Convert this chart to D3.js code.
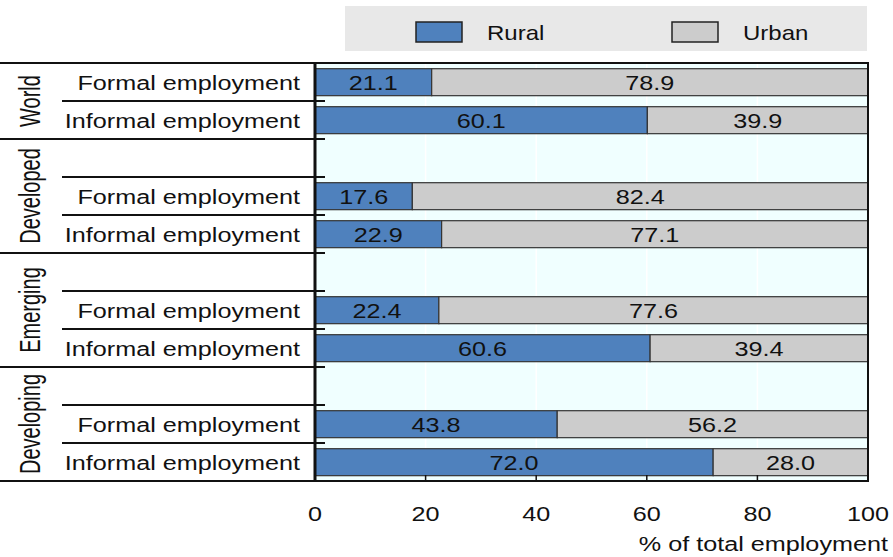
<!DOCTYPE html>
<html><head><meta charset="utf-8">
<script src="https://cdn.jsdelivr.net/npm/d3@7/dist/d3.min.js"></script>
<style>body{margin:0;background:#fff}svg{display:block}text{font-family:"Liberation Sans",Arial,sans-serif;fill:#111}</style>
</head><body><svg id="c" width="893" height="557"></svg>
<script>
const groups = ["World","Developed","Emerging","Developing"];
const rowGroup = ["World","World","Developed","Developed","Developed","Emerging","Emerging","Emerging","Developing","Developing","Developing"];
const rowLabel = ["Formal employment","Informal employment","","Formal employment","Informal employment","","Formal employment","Informal employment","","Formal employment","Informal employment"];
const rural = [21.1,60.1,null,17.6,22.9,null,22.4,60.6,null,43.8,72.0];
const urban = [78.9,39.9,null,82.4,77.1,null,77.6,39.4,null,56.2,28.0];
const xTicks = [0,20,40,60,80,100];
const seriesNames = ["Rural","Urban"];
const colors = {Rural:"#4f81bd", Urban:"#cccccc"};

const svg = d3.select("#c");
const L=315, R=868, T=63, B=481;
const x = d3.scaleLinear().domain([0,100]).range([L,R]);
const ids = rowLabel.map((d,i)=>i);
const y = d3.scaleBand().domain(ids).range([T,B]).padding(0);
const step = y.step();
const barOff = step*0.15, barH = step*0.71;
const SX = 1.2, FS = 21;

// legend
svg.append("rect").attr("x",345).attr("y",6).attr("width",522).attr("height",45).attr("fill","#e8e8e8");
const legX = {Rural:416, Urban:672};
seriesNames.forEach(s=>{
  svg.append("rect").attr("x",legX[s]).attr("y",22).attr("width",46).attr("height",20)
    .attr("fill",colors[s]).attr("stroke","#222").attr("stroke-width",1.5);
  svg.append("text").attr("transform",`translate(${legX[s]+71},40) scale(${SX},1)`)
    .attr("font-size",20).text(s);
});

// plot background
svg.append("rect").attr("x",L).attr("y",T).attr("width",R-L).attr("height",B-T).attr("fill","#f0ffff");
svg.append("g").selectAll("line").data(xTicks.slice(1,-1)).join("line")
  .attr("x1",d=>x(d)).attr("x2",d=>x(d)).attr("y1",T).attr("y2",B)
  .attr("stroke","#fff").attr("stroke-width",1.5);

// bars
const rowsData = ids.filter(i=>rural[i]!=null);
const bg = svg.append("g");
rowsData.forEach(i=>{
  const segs = [{s:"Rural",x0:0,x1:rural[i],v:rural[i]},{s:"Urban",x0:rural[i],x1:rural[i]+urban[i],v:urban[i]}];
  segs.forEach(sg=>{
    bg.append("rect").attr("x",x(sg.x0)).attr("y",y(i)+barOff).attr("width",x(sg.x1)-x(sg.x0)).attr("height",barH)
      .attr("fill",colors[sg.s]).attr("stroke","#333").attr("stroke-width",1.2);
    bg.append("text").attr("transform",`translate(${(x(sg.x0)+x(sg.x1))/2},${y(i)+step/2+7.5}) scale(${SX},1)`)
      .attr("text-anchor","middle").attr("font-size",FS).text(sg.v.toFixed(1));
  });
});

// x axis ticks (inward) and labels
svg.append("g").selectAll("line").data(xTicks).join("line")
  .attr("x1",d=>x(d)).attr("x2",d=>x(d)).attr("y1",B).attr("y2",B-6).attr("stroke","#111").attr("stroke-width",1.5);
svg.append("g").selectAll("text").data(xTicks).join("text")
  .attr("transform",d=>`translate(${x(d)},${521}) scale(${SX},1)`).attr("text-anchor","middle").attr("font-size",FS).text(d=>d);
svg.append("text").attr("transform",`translate(888,${551}) scale(${SX},1)`).attr("text-anchor","end").attr("font-size",FS).text("% of total employment");

// frame
svg.append("rect").attr("x",L).attr("y",T).attr("width",R-L).attr("height",B-T).attr("fill","none").attr("stroke","#111").attr("stroke-width",2);
svg.append("line").attr("x1",L).attr("x2",L).attr("y1",T).attr("y2",B+1).attr("stroke","#111").attr("stroke-width",3);

// row separators and labels
const lg = svg.append("g");
ids.forEach(i=>{
  const first = i===0 || rowGroup[i]!==rowGroup[i-1];
  lg.append("line").attr("x1",first?0:62).attr("x2",L+10).attr("y1",y(i)).attr("y2",y(i))
    .attr("stroke","#111").attr("stroke-width",first?2:1.8);
  if(rowLabel[i]) lg.append("text").attr("transform",`translate(300,${y(i)+step/2+7.5}) scale(${SX},1)`)
    .attr("text-anchor","end").attr("font-size",FS).text(rowLabel[i]);
});
lg.append("line").attr("x1",0).attr("x2",L+10).attr("y1",B).attr("y2",B).attr("stroke","#111").attr("stroke-width",2);

groups.forEach(g=>{
  const rs = ids.filter(i=>rowGroup[i]===g);
  const cy = (y(rs[0]) + y(rs[rs.length-1]) + step)/2;
  lg.append("text").attr("transform",`translate(40,${cy}) scale(1.45,1) rotate(-90)`)
    .attr("text-anchor","middle").attr("font-size",20).text(g);
});
</script></body></html>
